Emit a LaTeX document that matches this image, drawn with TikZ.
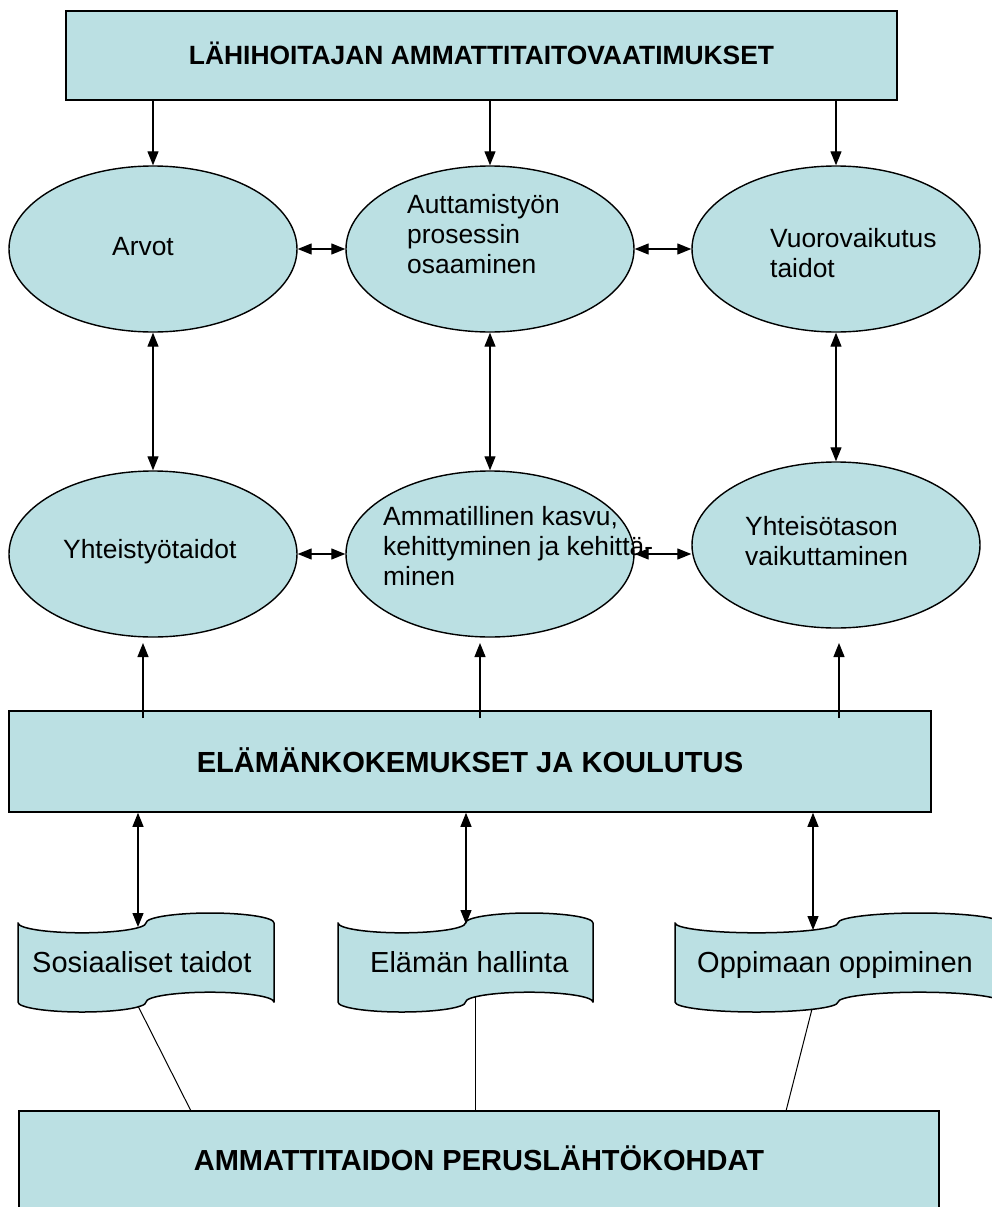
\documentclass[tikz,border=0pt]{standalone}
\usepackage{fontspec}
\setmainfont{Liberation Sans}
\usetikzlibrary{arrows.meta,shapes.geometric}
\definecolor{tealfill}{RGB}{187,224,227}
\newcommand{\ellfont}{\fontsize{26.4pt}{30.4pt}\selectfont}
\newcommand{\banfont}{\fontsize{29pt}{34pt}\selectfont}
\newcommand{\toptitlefont}{\bfseries\fontsize{26.4pt}{30pt}\selectfont}
\newcommand{\midtitlefont}{\bfseries\fontsize{29.1pt}{33pt}\selectfont}
\newcommand{\bottitlefont}{\bfseries\fontsize{29pt}{33pt}\selectfont}
\newcommand{\tapeshape}[4]{%
  \pgfmathsetmacro{\tqa}{#3/4}%
  \pgfmathsetmacro{\thb}{#4/10}%
  \path[tapestyle] (#1,#2+\thb)
    arc[start angle=180,end angle=360,x radius=\tqa pt,y radius=\thb pt]
    arc[start angle=180,end angle=0,x radius=\tqa pt,y radius=\thb pt]
    -- ++(0,#4-2*\thb)
    arc[start angle=0,end angle=180,x radius=\tqa pt,y radius=\thb pt]
    arc[start angle=0,end angle=-180,x radius=\tqa pt,y radius=\thb pt]
    -- cycle;}
\begin{document}
\begin{tikzpicture}[x=1pt,y=-1pt,
  ell/.style={ellipse, draw, line width=1.4pt, fill=tealfill, minimum width=288pt, minimum height=166pt, inner sep=0pt},
  boxst/.style={rectangle, draw, line width=1.6pt, fill=tealfill, inner sep=0pt, text depth=0pt},
  etext/.style={anchor=base west, inner sep=0pt, font=\ellfont},
  btext/.style={anchor=base west, inner sep=0pt, font=\banfont},
  arr/.style={line width=1.2pt, -{Triangle[length=14pt,width=11pt]}},
  darr/.style={line width=1.2pt, {Triangle[length=14pt,width=11pt]}-{Triangle[length=14pt,width=11pt]}},
  plainline/.style={line width=1pt},
  tapestyle/.style={draw, fill=tealfill, line width=1.5pt, line join=round}]
\useasboundingbox (0,0) rectangle (992,1207);
\clip (0,0) rectangle (992,1207);

% boxes
\node[boxst, minimum width=831pt, minimum height=89pt, font=\toptitlefont, text height=19pt] (top) at (481.5,55.5) {LÄHIHOITAJAN AMMATTITAITOVAATIMUKSET};
\node[boxst, minimum width=921.5pt, minimum height=101pt, font=\midtitlefont, text height=21pt] (mid) at (470,761.5) {ELÄMÄNKOKEMUKSET JA KOULUTUS};
\node[boxst, minimum width=920pt, minimum height=104pt, font=\bottitlefont, text height=21pt, text depth=6pt] (bot) at (479,1163) {AMMATTITAIDON PERUSLÄHTÖKOHDAT};

% ellipses
\node[ell] (arvot) at (153,249) {};
\node[ell] (aut) at (490,249) {};
\node[ell] (vuoro) at (836,249) {};
\node[ell] (yht) at (153,554) {};
\node[ell] (amm) at (490,554) {};
\node[ell] (yhteiso) at (836,545) {};

% ellipse texts
\node[etext] (arvotT) at (112,255) {Arvot};
\node[etext] (autT) at (407,213) {\begin{tabular}[t]{@{}l@{}}Auttamistyön\\prosessin\\osaaminen\end{tabular}};
\node[etext] (vuoroT) at (770,247) {\begin{tabular}[t]{@{}l@{}}Vuorovaikutus\\taidot\end{tabular}};
\node[etext] (yhtT) at (63,558) {Yhteistyötaidot};
\node[etext] (ammT) at (383,525) {\begin{tabular}[t]{@{}l@{}}Ammatillinen kasvu,\\kehittyminen ja kehittä-\\minen\end{tabular}};
\node[etext] (yhteisoT) at (745,535) {\begin{tabular}[t]{@{}l@{}}Yhteisötason\\vaikuttaminen\end{tabular}};

% banners
\tapeshape{18}{913}{256}{99}
\tapeshape{338}{913}{255}{99}
\tapeshape{675}{913}{326}{99}
\node[btext] (soc) at (32,972) {Sosiaaliset taidot};
\node[btext] (ela) at (370,972) {Elämän hallinta};
\node[btext] (opp) at (697,972) {Oppimaan oppiminen};

% coordinates
\coordinate (socT) at (138,927);
\coordinate (socB) at (138,1006);
\coordinate (elaT) at (466,924);
\coordinate (elaB) at (475,997);
\coordinate (oppT) at (813,930);
\coordinate (oppB) at (812,1009);
\coordinate (u1) at (143,643);
\coordinate (u2) at (480,643);
\coordinate (u3) at (839,643);
\coordinate (b1) at (191,1111);
\coordinate (b3) at (786,1111);

% connectors
\draw[arr] (top.south -| arvot.north) -- (arvot.north);
\draw[arr] (top.south -| aut.north) -- (aut.north);
\draw[arr] (top.south -| vuoro.north) -- (vuoro.north);
\draw[darr] (arvot.east) -- (aut.west);
\draw[darr] (aut.east) -- (vuoro.west);
\draw[darr] (arvot.south) -- (yht.north);
\draw[darr] (aut.south) -- (amm.north);
\draw[darr] (vuoro.south) -- (yhteiso.north);
\draw[darr] (yht.east) -- (amm.west);
\draw[darr] (amm.east) -- (amm.east -| yhteiso.west);
\draw[arr] ([yshift=-8pt]u1 |- mid.north) -- (u1);
\draw[arr] ([yshift=-8pt]u2 |- mid.north) -- (u2);
\draw[arr] ([yshift=-8pt]u3 |- mid.north) -- (u3);
\draw[darr] (socT |- mid.south) -- (socT);
\draw[darr] (elaT |- mid.south) -- (elaT);
\draw[darr] (oppT |- mid.south) -- (oppT);
\draw[plainline] (socB) -- (b1);
\draw[plainline] (elaB) -- (elaB |- bot.north);
\draw[plainline] (oppB) -- (b3);
\end{tikzpicture}
\end{document}
